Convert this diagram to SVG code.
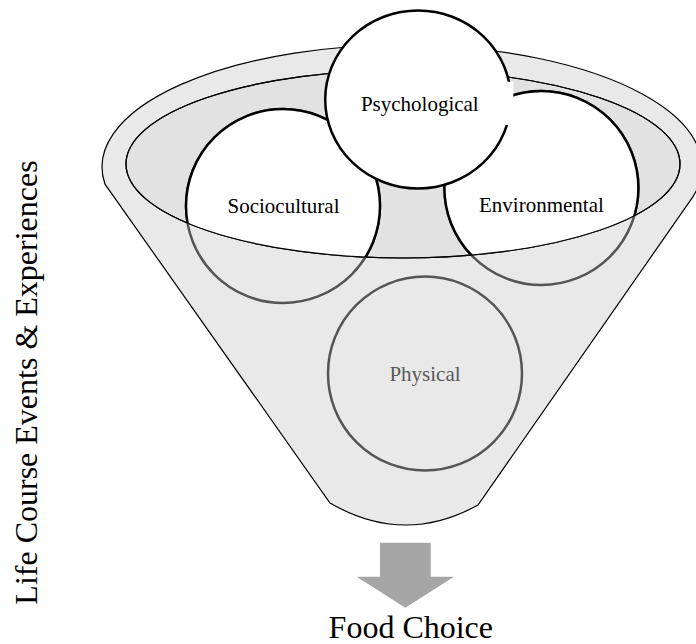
<svg xmlns="http://www.w3.org/2000/svg" width="696" height="644" viewBox="0 0 696 644">
  <style>
    .label { font-family: "Liberation Serif", "Times New Roman", serif; font-size: 21px; fill: #000; text-anchor: middle; }
    .big { font-family: "Liberation Serif", "Times New Roman", serif; font-size: 32px; fill: #000; text-anchor: middle; }
    .rim { stroke: #000; stroke-width: 1.2; }
    .ring-front { fill: #fff; stroke: #000; stroke-width: 2.5; }
    .ring-back { fill: none; stroke: #555; stroke-width: 2.5; }
  </style>
  <defs>
    <!-- opening of the funnel: the part of each circle seen inside it is drawn white -->
    <clipPath id="opening">
      <ellipse cx="403" cy="164" rx="277" ry="94"/>
    </clipPath>
  </defs>

  <rect width="696" height="644" fill="#fff"/>

  <!-- funnel body: rim ellipse on top, cone below -->
  <g id="funnel">
    <path class="rim" fill="#e9e9e9"
          d="M105 184.2 A300 122 0 1 1 693 196.66 L478 505 Q404 546 330 503 Z"/>
    <ellipse class="rim" fill="#e2e2e2" cx="403" cy="164" rx="277" ry="94"/>
  </g>

  <!-- Physical: sits fully inside the cone -->
  <g id="node-physical">
    <circle class="ring-back" cx="425" cy="373.5" r="97"/>
    <text class="label" x="425" y="380.7" style="fill:#595959">Physical</text>
  </g>

  <g id="node-sociocultural">
    <circle class="ring-back" cx="283" cy="206" r="97"/>
    <circle class="ring-front" cx="283" cy="206" r="97" clip-path="url(#opening)"/>
    <text class="label" x="283.5" y="213.3">Sociocultural</text>
  </g>

  <g id="node-environmental">
    <circle class="ring-back" cx="541.4" cy="188" r="97"/>
    <circle class="ring-front" cx="541.4" cy="188" r="97" clip-path="url(#opening)"/>
    <text class="label" x="541.4" y="211.7">Environmental</text>
  </g>

  <!-- edge of the opening, passing over the circles -->
  <ellipse class="rim" fill="none" cx="403" cy="164" rx="277" ry="94"/>

  <g id="node-psychological">
    <ellipse class="ring-front" cx="418" cy="99.5" rx="92.8" ry="89"/>
    <rect x="495" y="81.7" width="18.3" height="43.3" fill="#fff"/>
    <text class="label" x="419.8" y="111">Psychological</text>
  </g>

  <g id="connectors">
    <path fill="#a6a6a6" d="M380 542.7 H430.7 V576.7 H454 L405.3 607.7 L356.7 576.7 H380 Z"/>
  </g>

  <text class="big" x="410.8" y="637.5">Food Choice</text>
  <text class="big" transform="translate(37.3 382.5) rotate(-90)">Life Course Events &amp; Experiences</text>
</svg>
